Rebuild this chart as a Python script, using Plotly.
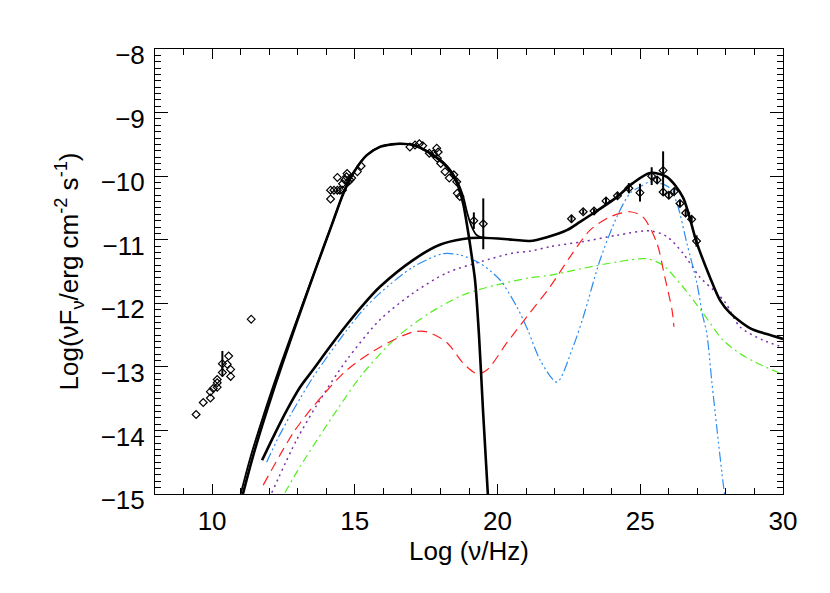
import plotly.graph_objects as go

# synchrotron component (log nu, log nuFnu)
sync_x = [11.08, 11.4, 11.75, 12.2, 12.7, 13.2, 13.66, 14.19, 14.6, 14.95, 15.42, 15.88, 16.3,
          16.58, 17.04, 17.63, 18.23, 18.58, 18.79, 18.96, 19.10, 19.21, 19.35, 19.49, 19.66]
sync_y = [-15.0, -14.46, -13.93, -13.3, -12.64, -12.0, -11.42, -10.77, -10.27, -9.95, -9.67, -9.54, -9.5,
          -9.49, -9.51, -9.64, -9.86, -10.11, -10.42, -10.85, -11.27, -11.63, -12.5, -13.68, -15.0]

# total model (synchrotron + inverse Compton) up to where it meets the IC curve
tot_x = [11.0, 11.32, 11.68, 12.14, 12.66, 13.18, 13.66, 14.19, 14.6, 14.95, 15.42, 15.88, 16.3,
         16.58, 17.04, 17.63, 18.23, 18.58, 18.79, 18.95, 19.1, 19.25, 19.4, 19.6]
tot_y = [-15.0, -14.46, -13.93, -13.3, -12.64, -12.0, -11.42, -10.77, -10.27, -9.95, -9.67, -9.54, -9.5,
         -9.49, -9.51, -9.63, -9.84, -10.07, -10.31, -10.6, -10.8, -10.92, -10.96, -10.97]

# inverse Compton total
ic_x = [11.75, 12.2, 12.62, 13.08, 13.53, 14.1, 14.73, 15.3, 15.88, 17.04, 17.98, 18.79, 19.38, 20.54, 21.13,
        21.73, 22.43, 22.89, 23.3, 24.18, 24.74, 25.34, 25.93, 26.49, 26.98, 27.44, 27.79,
        28.14, 28.84, 29.4, 30.0]
ic_y = [-14.47, -14.05, -13.68, -13.32, -13.05, -12.7, -12.33, -12.02, -11.74, -11.32, -11.08, -10.99, -10.97,
        -11.0, -11.02, -10.96, -10.85, -10.72, -10.6, -10.33, -10.11, -9.95, -10.01, -10.33, -11.05, -11.59,
        -11.95, -12.15, -12.39, -12.48, -12.56]

# components
blue_x = [11.91, 12.3, 12.73, 13.08, 13.54, 14.1, 14.72, 15.3, 15.88, 17.04, 18.09, 18.68, 19.38, 20.08,
          20.68, 21.06, 21.5, 22.08, 22.64, 23.0, 23.59, 24.18, 24.64, 24.99, 25.34, 25.99, 26.28, 26.63,
          26.98, 27.19, 27.33, 27.51, 27.68, 27.86, 27.95]
blue_y = [-14.5, -14.13, -13.77, -13.5, -13.16, -12.8, -12.42, -12.1, -11.84, -11.43, -11.22, -11.24, -11.37,
          -11.63, -12.06, -12.42, -12.9, -13.24, -12.69, -12.22, -11.32, -10.64, -10.27, -10.17, -10.09,
          -10.17, -10.42, -11.05, -11.68, -12.2, -12.47, -13.25, -13.95, -14.67, -15.0]

red_x = [11.79, 12.84, 13.53, 14.72, 15.88, 17.04, 17.53, 18.23, 18.79, 19.28, 19.63, 20.33, 21.03,
         21.84, 22.54, 23.24, 23.94, 24.64, 25.09, 25.58, 25.86, 26.11, 26.18]
red_y = [-14.86, -14.04, -13.63, -13.05, -12.69, -12.45, -12.45, -12.62, -12.94, -13.11, -13.05, -12.62, -12.21,
         -11.74, -11.27, -10.85, -10.64, -10.56, -10.64, -11.05, -11.59, -12.1, -12.37]

purple_x = [12.09, 12.96, 13.67, 14.72, 15.88, 17.04, 18.23, 19.38, 20.54, 21.13, 21.84, 23.0, 24.18,
            25.34, 25.93, 26.49, 27.09, 27.68, 28.0, 28.49, 29.3, 30.0]
purple_y = [-14.98, -14.15, -13.6, -12.89, -12.26, -11.84, -11.52, -11.35, -11.21, -11.18, -11.11, -11.03, -10.93,
            -10.86, -10.95, -11.21, -11.59, -11.84, -12.0, -12.37, -12.58, -12.69]

green_x = [12.55, 13.08, 14.37, 15.29, 16.48, 17.63, 18.79, 19.98, 21.13, 21.84, 23.0, 24.18, 25.23,
           25.79, 26.49, 27.19, 27.9, 28.49, 29.09, 29.89, 30.0]
green_y = [-14.98, -14.57, -13.68, -13.1, -12.53, -12.15, -11.87, -11.71, -11.6, -11.56, -11.45, -11.35, -11.3,
           -11.4, -11.74, -12.15, -12.58, -12.79, -12.94, -13.1, -13.12]

# observed data
obs_x = [9.44, 9.69, 9.94, 9.94, 10.04, 10.18, 10.18, 10.18, 10.36, 10.36, 10.53, 10.58, 10.65, 10.65, 11.37,
         14.15, 14.15, 14.27, 14.39, 14.48, 14.57, 14.39, 14.57, 14.65, 14.71, 14.73, 14.77, 14.83, 14.89,
         15.09, 15.22,
         16.93, 17.11, 17.26, 17.38, 17.61, 17.75, 17.87, 17.92, 17.89, 18.01, 18.16, 18.31, 18.47, 18.57,
         18.59, 18.68, 19.17, 19.50,
         22.59, 23.0, 23.38, 23.80, 24.2, 24.6, 24.99, 25.40, 25.59, 25.80, 25.80, 26.0, 26.19, 26.39,
         26.59, 26.8, 26.97]
obs_y = [-13.75, -13.56, -13.49, -13.39, -13.34, -13.32, -13.25, -13.2, -13.09, -12.95, -12.96, -12.83, -13.04,
         -13.15, -12.25,
         -10.36, -10.22, -10.22, -10.22, -10.22, -10.22, -10.02, -10.12, -10.06, -10.01, -9.96, -10.09, -10.06,
         -10.03, -9.93, -9.84,
         -9.54, -9.51, -9.49, -9.52, -9.64, -9.65, -9.56, -9.62, -9.72, -9.80, -9.93, -10.03, -9.98, -10.09,
         -10.27, -10.32, -10.70, -10.75,
         -10.67, -10.56, -10.55, -10.39, -10.31, -10.19, -10.26, -10.0, -10.06, -9.91, -10.25, -10.3, -10.24,
         -10.43, -10.58, -10.68, -11.02]
obs_err = [0, 0, 0, 0, 0, 0, 0, 0, 0, 0.2, 0, 0, 0, 0, 0,
           0, 0, 0, 0, 0, 0, 0, 0, 0, 0, 0, 0, 0, 0, 0, 0,
           0, 0, 0, 0, 0, 0, 0, 0, 0, 0, 0, 0, 0, 0, 0, 0, 0.13, 0.4,
           0.06, 0.04, 0.04, 0.05, 0.05, 0.08, 0.14, 0.14, 0.06, 0.3, 0.05, 0.05, 0.05, 0.05, 0.05, 0.05, 0.09]

fig = go.Figure()


def curve(x, y, color, width, dash='solid'):
    return go.Scatter(x=x, y=y, mode='lines',
                      line=dict(color=color, width=width, dash=dash, shape='spline', smoothing=0.8))


fig.add_trace(curve(green_x, green_y, '#55ee22', 1.2, '8px,4px,2px,4px'))
fig.add_trace(curve(purple_x, purple_y, '#7a2fa8', 1.5, '2px,4px'))
fig.add_trace(curve(red_x, red_y, '#ff2020', 1.2, '10px,6px'))
fig.add_trace(curve(blue_x, blue_y, '#2c8cf0', 1.2, '10px,3px,2px,3px,2px,3px,2px,3px'))
fig.add_trace(curve(sync_x, sync_y, 'black', 2.6))
fig.add_trace(curve(tot_x, tot_y, 'black', 1.8))
fig.add_trace(curve(ic_x, ic_y, 'black', 2.6))
fig.add_trace(go.Scatter(x=obs_x, y=obs_y, mode='markers',
                         marker=dict(symbol='diamond-open', size=6, color='black',
                                     line=dict(width=1.2, color='black')),
                         error_y=dict(type='data', array=obs_err, color='black',
                                      thickness=2, width=0)))

font = dict(family='Liberation Sans', size=26, color='black')
axis_common = dict(showgrid=False, zeroline=False, showline=True, linecolor='black', linewidth=1,
                   mirror='allticks', ticks='inside', tickcolor='black', tickwidth=1, tickfont=font)

# page body has an 8px margin, so the plot box is placed accordingly
fig.update_layout(
    width=830, height=593,
    margin=dict(l=147, r=55, t=41, b=107),
    paper_bgcolor='white', plot_bgcolor='white',
    showlegend=False,
    xaxis=dict(range=[8, 30], dtick=5, tick0=0, ticklen=10, ticklabelstandoff=4,
               minor=dict(dtick=1, ticks='inside', ticklen=6, tickcolor='black'),
               title=dict(text='Log (ν/Hz)', standoff=6, font=font),
               **axis_common),
    yaxis=dict(range=[-15, -8], dtick=1, tick0=0, ticklen=13, ticklabelstandoff=4, ticklabelshift=6,
               minor=dict(dtick=0.1, ticks='inside', ticklen=6, tickcolor='black'),
               title=dict(text='Log(νF<sub>ν</sub>/erg cm<sup>-2</sup> s<sup>-1</sup>)', standoff=14, font=font),
               **axis_common),
)

fig.write_html("out.html")
